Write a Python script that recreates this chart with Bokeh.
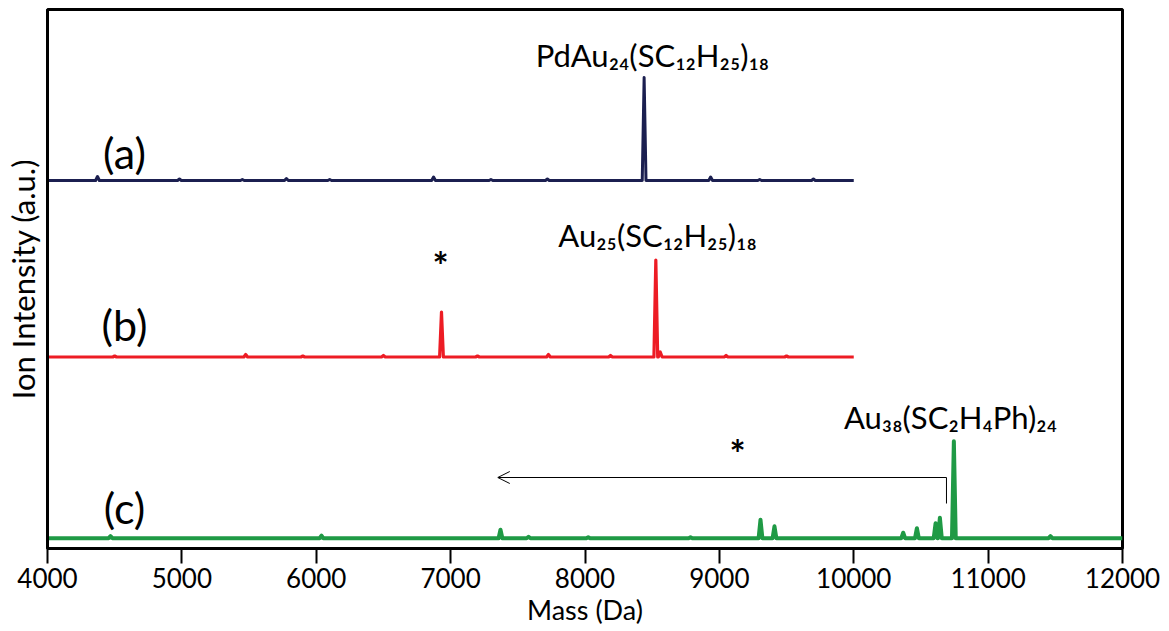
from bokeh.plotting import figure
from bokeh.models import Range1d, FixedTicker, Label, Arrow, OpenHead
from bokeh.embed import file_html
from bokeh.resources import INLINE

# ---------------- data ----------------
# spectrum (a): PdAu24(SC12H25)18, peaks (mass Da, intensity a.u.)
a_mass = [4372, 4982, 5450, 5778, 6100, 6873, 7300, 7720, 8440, 8935, 9300, 9700]
a_int = [4, 1.5, 1, 2, 1, 3.5, 1, 1.5, 103, 3.5, 1, 1.5]
# spectrum (b): Au25(SC12H25)18
b_mass = [4500, 5475, 5900, 6500, 6932, 7200, 7728, 8190, 8527, 8560, 9050, 9500]
b_int = [1, 2.5, 1, 1.5, 45, 1, 2.5, 1.5, 97, 5, 1.5, 1]
# spectrum (c): Au38(SC2H4Ph)24
c_mass = [4469, 6039, 7371, 7580, 8024, 8785, 9306, 9410, 10368, 10470, 10609, 10641, 10745, 11464]
c_int = [2, 2.5, 8.5, 1.5, 1, 1, 18.5, 12, 5.5, 10, 15, 20.5, 97, 2]

# vertical stacking offsets of the three traces (a.u.)
offsets = {"a": 368, "b": 191.5, "c": 10.3}
x_end = {"a": 10000, "b": 10000, "c": 12000}

x_ticks = [4000, 5000, 6000, 7000, 8000, 9000, 10000, 11000, 12000]

colors = {"a": "#1b1f50", "b": "#ed1c24", "c": "#1f9a45"}
widths = {"a": 3, "b": 3.2, "c": 4}

FONT = "Lato"
FORMULA_FONT = "Lato, 'Noto Sans'"


def trace(masses, ints, off, xmax, hw=14):
    xs, ys = [4000], [off]
    for m, h in sorted(zip(masses, ints)):
        xs += [m - hw, m, m + hw]
        ys += [off, off + h, off]
    xs.append(xmax)
    ys.append(off)
    return xs, ys


p = figure(width=1169, height=631, output_backend="svg", toolbar_location=None,
           x_range=Range1d(4000, 12000), y_range=Range1d(0, 539),
           min_border_left=47, min_border_right=47, min_border_top=9, min_border_bottom=83)
p.grid.visible = False
p.background_fill_color = "white"
p.border_fill_color = "white"
p.outline_line_color = "black"
p.outline_line_width = 3

for key, (ms, its) in {"a": (a_mass, a_int), "b": (b_mass, b_int), "c": (c_mass, c_int)}.items():
    xs, ys = trace(ms, its, offsets[key], x_end[key])
    p.line(xs, ys, line_color=colors[key], line_width=widths[key], line_join="round")

# x axis
xa = p.xaxis[0]
xa.ticker = FixedTicker(ticks=x_ticks)
xa.major_tick_out = 15
xa.major_tick_in = 0
xa.minor_tick_line_color = None
xa.axis_line_width = 3
xa.major_tick_line_width = 2
xa.major_label_text_font = FONT
xa.major_label_text_font_size = "26px"
xa.major_label_text_color = "black"
xa.major_label_standoff = 4
xa.axis_label = "Mass (Da)"
xa.axis_label_text_font = FONT
xa.axis_label_text_font_size = "27px"
xa.axis_label_text_color = "black"
xa.axis_label_text_font_style = "normal"
xa.axis_label_standoff = 2

# y axis
ya = p.yaxis[0]
ya.ticker = FixedTicker(ticks=[])
ya.major_tick_out = 0
ya.minor_tick_line_color = None
ya.major_label_text_font_size = "0px"
ya.axis_line_width = 3
ya.axis_label = "Ion Intensity (a.u.)"
ya.axis_label_text_font = FONT
ya.axis_label_text_font_size = "31px"
ya.axis_label_text_color = "black"
ya.axis_label_text_font_style = "normal"
ya.axis_label_standoff = 6

# annotations
for txt, xm, yv in [("(a)", 4573, 396), ("(b)", 4573, 224), ("(c)", 4573, 41)]:
    p.add_layout(Label(x=xm, y=yv, text=txt, text_font=FONT, text_font_size="43px",
                       text_align="center", text_baseline="middle", text_color="black"))

for txt, xm, yv in [("PdAu₂₄(SC₁₂H₂₅)₁₈", 8502, 494),
                    ("Au₂₅(SC₁₂H₂₅)₁₈", 8540, 314),
                    ("Au₃₈(SC₂H₄Ph)₂₄", 10720, 132)]:
    p.add_layout(Label(x=xm, y=yv, text=txt, text_font=FORMULA_FONT, text_font_size="31px",
                       text_align="center", text_baseline="alphabetic", text_color="black"))

for xm, yv in [(6925, 284), (9135, 96)]:
    p.add_layout(Label(x=xm, y=yv, text="*", text_font=FONT, text_font_size="38px",
                       text_font_style="bold", text_align="center",
                       text_baseline="alphabetic", text_color="black"))

p.add_layout(Arrow(end=OpenHead(size=12, line_width=1, line_color="black"),
                   x_start=10690, y_start=71, x_end=7351, y_end=71,
                   line_color="black", line_width=1))
p.segment(x0=[10690], y0=[45], x1=[10690], y1=[71], line_color="black", line_width=1)

open("out.html", "w").write(file_html(p, INLINE))
